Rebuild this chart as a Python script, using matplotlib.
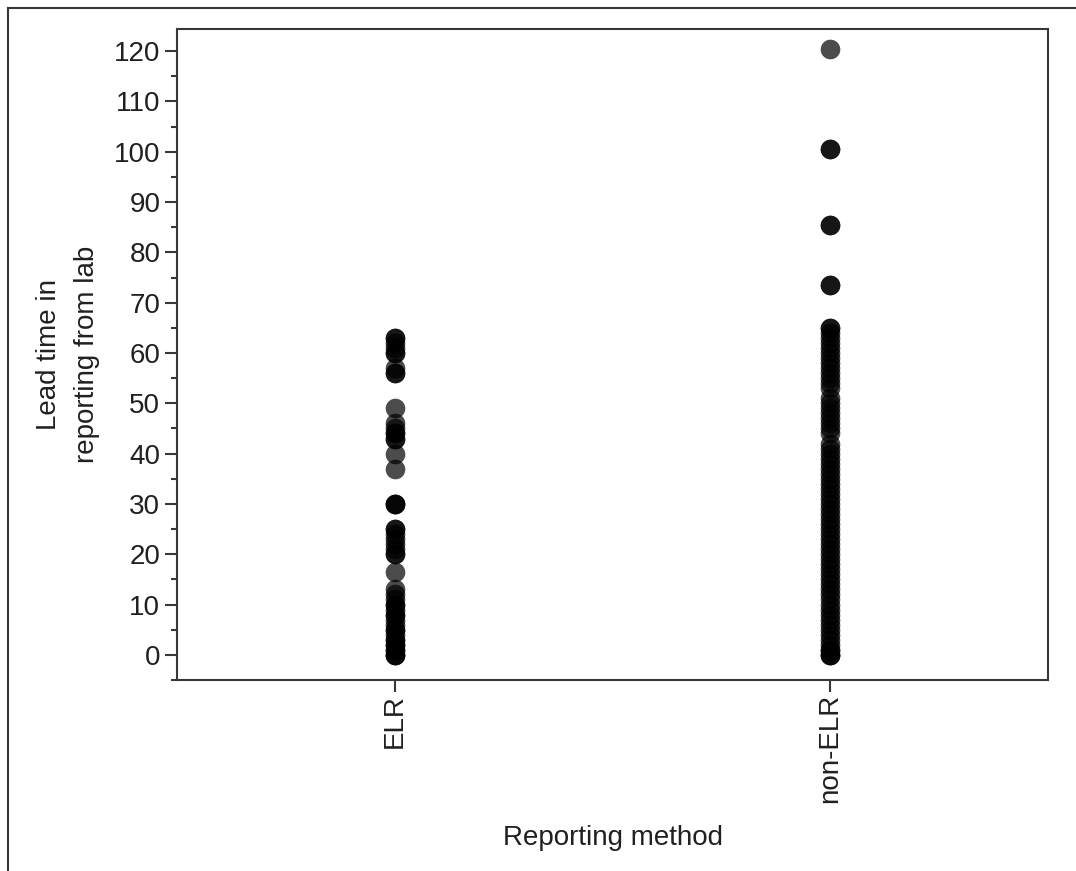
import matplotlib as mpl
mpl.use('Agg')
import matplotlib.pyplot as plt
from matplotlib.lines import Line2D
import numpy as np

plt.rcParams['font.family'] = ['Liberation Sans', 'DejaVu Sans']

#Categories and lead times (days)
categories = ["ELR", "non-ELR"]
elr = [63, 63, 62, 61, 60, 60, 57, 56, 56,
       49, 46, 45, 44, 44, 43, 43, 40, 37,
       30, 30, 30, 25, 25, 24, 23, 22, 21, 20, 20, 16.5,
       13, 12, 11, 10, 10, 9, 8, 8, 7, 6, 5, 5, 4, 3, 3, 2, 2, 1, 1, 0, 0, 0]
non_elr = [120.5, 100.5, 100.5, 85.5, 85.5, 73.5, 73.5,
           65, 65, 64, 63, 62, 61, 60, 59, 58, 57, 56, 55, 54, 53,
           51, 50, 49, 48, 47, 46, 45, 44, 42, 41, 40, 39, 38, 37, 36,
           35, 34, 33, 32, 31, 30, 29, 28, 27, 26, 25, 24, 23, 22, 21, 20,
           19, 18, 17, 16, 15, 14, 13, 12, 11, 10, 9, 8, 7, 6, 5, 4, 3, 2,
           1, 1, 0, 0, 0]
yticks = list(range(0, 121, 10))

fs = 20
fig = plt.figure(figsize=(10.76, 8.71), dpi=100)
ax = fig.add_axes([0.1645, 0.2193, 0.8095, 0.7474])

for i, vals in enumerate([elr, non_elr]):
    ax.scatter(np.full(len(vals), i), vals, s=200, color='black',
               alpha=0.7, linewidths=0, zorder=3)

ax.set_xlim(-0.5, 1.5)
ax.set_ylim(-5, 124.4)
ax.set_xticks([0, 1])
ax.set_xticklabels(categories, rotation=90, fontsize=fs)
ax.set_yticks(yticks)
ax.set_yticklabels([str(t) for t in yticks], fontsize=fs)
ax.set_yticks(np.arange(-5, 125, 5), minor=True)

for sp in ax.spines.values():
    sp.set_color('#383838')
    sp.set_linewidth(1.5)
ax.tick_params(axis='both', which='major', length=8.5, width=1.5, color='#383838', labelcolor='#202020', pad=3.5)
ax.tick_params(axis='y', which='minor', length=4.5, width=1.5, color='#383838')
ax.tick_params(axis='x', which='major', pad=1.5)

ax.set_xlabel('Reporting method', fontsize=fs, color='#202020', labelpad=16)
ax.set_ylabel('Lead time in\nreporting from lab', fontsize=fs, color='#202020',
              labelpad=10, linespacing=1.6)

#outer frame (top and left edges)
fig.add_artist(Line2D([8/1076, 1], [1-8/871, 1-8/871], color='#383838', lw=1.5))
fig.add_artist(Line2D([8/1076, 8/1076], [0, 1-8/871], color='#383838', lw=1.5))

fig.savefig("out.png", dpi=100)
